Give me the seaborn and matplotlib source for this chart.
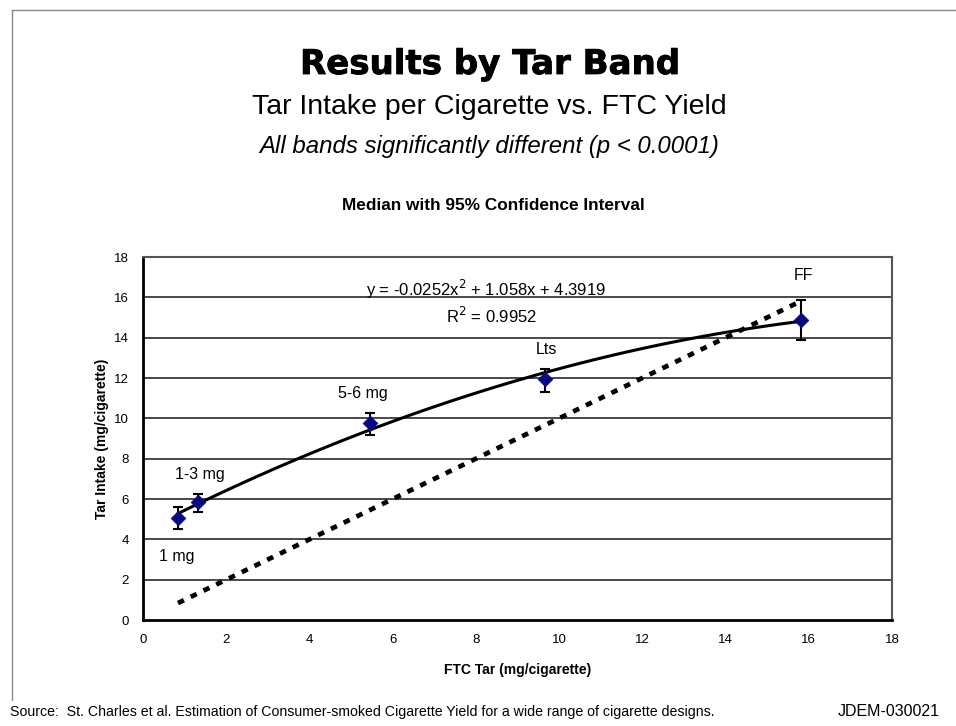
import matplotlib
matplotlib.use("Agg")
import matplotlib.pyplot as plt
import matplotlib.patheffects as pe
from matplotlib.lines import Line2D
import numpy as np
import pandas as pd
import seaborn as sns

# medians and 95% CI
bands = ['1 mg', '1-3 mg', '5-6 mg', 'Lts', 'FF']
ftc_tar = [0.84, 1.31, 5.46, 9.66, 15.81]
intake_median = [5.06, 5.86, 9.79, 11.94, 14.89]
ci_low = [4.51, 5.36, 9.15, 11.31, 13.90]
ci_high = [5.62, 6.25, 10.28, 12.44, 15.89]

x_ticks = list(range(0, 19, 2))
y_ticks = list(range(0, 19, 2))

df = pd.DataFrame({'band': bands, 'ftc': ftc_tar, 'intake': intake_median,
                   'lo': ci_low, 'hi': ci_high})

sns.set_style('white')
plt.rcParams['font.family'] = ['Liberation Sans', 'DejaVu Sans']
plt.rcParams['text.color'] = 'black'
plt.rcParams['axes.labelcolor'] = 'black'
plt.rcParams['xtick.color'] = 'black'
plt.rcParams['ytick.color'] = 'black'

fig = plt.figure(figsize=(9.56, 7.26), dpi=100)
ax = fig.add_axes([0.1496, 0.146, 0.7834, 0.5])

for y in y_ticks[1:]:
    ax.axhline(y, color='#3a3a3a', lw=1.3, zorder=0)

# identity line (FTC yield == intake)
ax.plot([df.ftc.iloc[0], df.ftc.iloc[-1]], [df.ftc.iloc[0], df.ftc.iloc[-1]],
        color='black', lw=3.4, linestyle=(0, (1.4, 1.6)), zorder=2)

# quadratic trendline
sns.regplot(data=df, x='ftc', y='intake', order=2, ci=None, scatter=False,
            line_kws={'color': 'black', 'lw': 2.2}, ax=ax)

ax.errorbar(df.ftc, df.intake,
            yerr=[df.intake - df.lo, df.hi - df.intake],
            fmt='none', ecolor='black', elinewidth=1.5, capsize=3.8,
            capthick=1.5, zorder=3)
sns.scatterplot(data=df, x='ftc', y='intake', marker='D', s=55,
                color='#0a0a80', edgecolor='#0a0a80', zorder=4, ax=ax)

label_pos = {'1 mg': (0.82, 3.15), '1-3 mg': (1.36, 7.2), '5-6 mg': (5.29, 11.23),
             'Lts': (9.7, 13.4), 'FF': (15.87, 17.1)}
for b in bands:
    ax.text(*label_pos[b], b, fontsize=11.5, ha='center', va='center')

ax.text(8.25, 16.4, 'y = -0.0252x$^2$ + 1.058x + 4.3919', fontsize=12,
        ha='center', va='center')
ax.text(8.37, 15.1, 'R$^2$ = 0.9952', fontsize=12, ha='center', va='center')

ax.set_xlim(0, 18)
ax.set_ylim(0, 18)
ax.set_xticks(x_ticks)
ax.set_yticks(y_ticks)
ax.tick_params(axis='both', direction='inout', length=8, width=1.3,
               labelsize=9.5, pad=6)
ax.set_xlabel('FTC Tar (mg/cigarette)', fontsize=10, fontweight='bold', labelpad=12)
ax.set_ylabel('Tar Intake (mg/cigarette)', fontsize=10, fontweight='bold', labelpad=4)

for side in ['left', 'bottom']:
    ax.spines[side].set_color('black')
    ax.spines[side].set_linewidth(2)
for side in ['top', 'right']:
    ax.spines[side].set_color('#555555')
    ax.spines[side].set_linewidth(1.5)

fig.text(0.5126, 1 - 64.5 / 726, 'Results by Tar Band', fontsize=24.5,
         fontweight='bold', family='DejaVu Sans', ha='center', va='center',
         path_effects=[pe.withStroke(linewidth=0.6, foreground='black')])
fig.text(0.5115, 1 - 107 / 726, 'Tar Intake per Cigarette vs. FTC Yield',
         fontsize=20.5, ha='center', va='center')
fig.text(0.512, 1 - 146 / 726, 'All bands significantly different (p < 0.0001)',
         fontsize=17.3, style='italic', ha='center', va='center')
fig.text(0.516, 1 - 205.5 / 726, 'Median with 95% Confidence Interval',
         fontsize=12.4, fontweight='bold', ha='center', va='center')

fig.text(10 / 956, 1 - 712 / 726, 'Source:  St. Charles et al. Estimation of '
         'Consumer-smoked Cigarette Yield for a wide range of cigarette designs.',
         fontsize=10.2, ha='left', va='center')
fig.text(838 / 956, 1 - 712 / 726, 'JDEM-030021', fontsize=11.5,
         ha='left', va='center')

# slide frame
fig.add_artist(Line2D([12 / 956, 12 / 956], [1 - 10 / 726, 1 - 700 / 726],
                      color='#888888', lw=1))
fig.add_artist(Line2D([12 / 956, 1], [1 - 10 / 726, 1 - 10 / 726],
                      color='#888888', lw=1))

fig.savefig('out.png', dpi=100)
